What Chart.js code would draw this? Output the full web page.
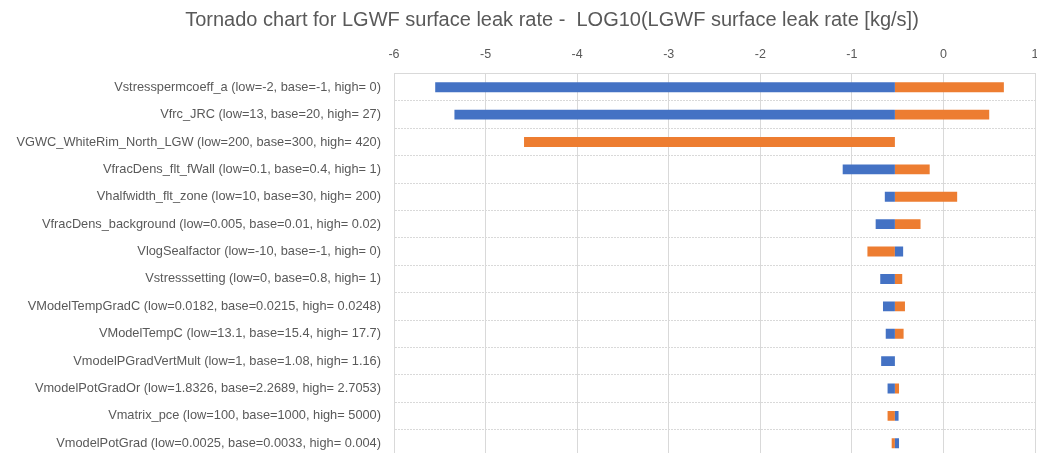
<!DOCTYPE html>
<html>
<head>
<meta charset="utf-8">
<script src="https://cdn.jsdelivr.net/npm/chart.js@4.4.1/dist/chart.umd.min.js"></script>
<style>
  html, body { margin: 0; padding: 0; background: #ffffff; overflow: hidden; }
  #wrap { width: 1037px; height: 453px; overflow: hidden; }
  canvas { display: block; }
</style>
</head>
<body>
<div id="wrap"><canvas id="tornado" width="1037" height="457"></canvas></div>
<script>
// Input parameters, their ranges and the resulting LOG10 leak rate at each end
const categories = [
  'Vstresspermcoeff_a (low=-2, base=-1, high= 0)',
  'Vfrc_JRC (low=13, base=20, high= 27)',
  'VGWC_WhiteRim_North_LGW (low=200, base=300, high= 420)',
  'VfracDens_flt_fWall (low=0.1, base=0.4, high= 1)',
  'Vhalfwidth_flt_zone (low=10, base=30, high= 200)',
  'VfracDens_background (low=0.005, base=0.01, high= 0.02)',
  'VlogSealfactor (low=-10, base=-1, high= 0)',
  'Vstresssetting (low=0, base=0.8, high= 1)',
  'VModelTempGradC (low=0.0182, base=0.0215, high= 0.0248)',
  'VModelTempC (low=13.1, base=15.4, high= 17.7)',
  'VmodelPGradVertMult (low=1, base=1.08, high= 1.16)',
  'VmodelPotGradOr (low=1.8326, base=2.2689, high= 2.7053)',
  'Vmatrix_pce (low=100, base=1000, high= 5000)',
  'VmodelPotGrad (low=0.0025, base=0.0033, high= 0.004)'
];

// LOG10 leak rate of the base case
const baseValue = -0.53;

// LOG10 leak rate with the parameter at its low value
const lowValues = [-5.55, -5.34, -0.53, -1.10, -0.64, -0.74, -0.44, -0.69, -0.66, -0.63, -0.68, -0.61, -0.49, -0.485];

// LOG10 leak rate with the parameter at its high value
const highValues = [0.66, 0.50, -4.58, -0.15, 0.15, -0.25, -0.83, -0.45, -0.42, -0.435, -0.53, -0.485, -0.61, -0.565];

// Value axis range
const axisMin = -6;
const axisMax = 1;

const chartTitle = 'Tornado chart for LGWF surface leak rate -  LOG10(LGWF surface leak rate [kg/s])';

const textColor = '#595959';
const gridColor = '#d9d9d9';
const fontFamily = "'Liberation Sans', Arial, sans-serif";

const toRange = v => [baseValue, v];

// Chart heading, centred over the labels + plot block
const headingPlugin = {
  id: 'heading',
  afterDraw(chart) {
    const ctx = chart.ctx;
    ctx.save();
    ctx.fillStyle = textColor;
    ctx.font = '20px ' + fontFamily;
    ctx.textAlign = 'center';
    ctx.textBaseline = 'middle';
    ctx.fillText(chartTitle, 552, 20);
    ctx.restore();
  }
};

new Chart(document.getElementById('tornado'), {
  type: 'bar',
  data: {
    labels: categories,
    datasets: [
      {
        label: 'low',
        data: lowValues.map(toRange),
        backgroundColor: '#4472c4',
        grouped: false,
        categoryPercentage: 1,
        barPercentage: 0.36,
        borderSkipped: false,
        borderWidth: 0
      },
      {
        label: 'high',
        data: highValues.map(toRange),
        backgroundColor: '#ed7d31',
        grouped: false,
        categoryPercentage: 1,
        barPercentage: 0.36,
        borderSkipped: false,
        borderWidth: 0
      }
    ]
  },
  plugins: [headingPlugin],
  options: {
    indexAxis: 'y',
    responsive: false,
    animation: false,
    layout: { padding: { left: 0, right: 2, top: 31, bottom: 0 } },
    plugins: {
      legend: { display: false },
      tooltip: { enabled: false },
      title: { display: false }
    },
    scales: {
      x: {
        position: 'top',
        min: axisMin,
        max: axisMax,
        ticks: {
          stepSize: 1,
          color: textColor,
          font: { family: fontFamily, size: 12.5 },
          padding: 11
        },
        grid: { color: gridColor, drawTicks: false, lineWidth: 1 },
        border: { color: gridColor },
        afterFit: s => {
          s.height = 42.5;
          s.paddingLeft = 0;
          s.paddingRight = 0;
        }
      },
      y: {
        ticks: {
          color: textColor,
          font: { family: fontFamily, size: 12.8 },
          padding: 13,
          autoSkip: false
        },
        grid: { color: gridColor, drawTicks: false, offset: true },
        border: { color: gridColor, dash: [2, 1] },
        afterFit: s => {
          s.width = 394;
          s.paddingTop = 0;
          s.paddingBottom = 0;
        }
      }
    }
  }
});
</script>
</body>
</html>
